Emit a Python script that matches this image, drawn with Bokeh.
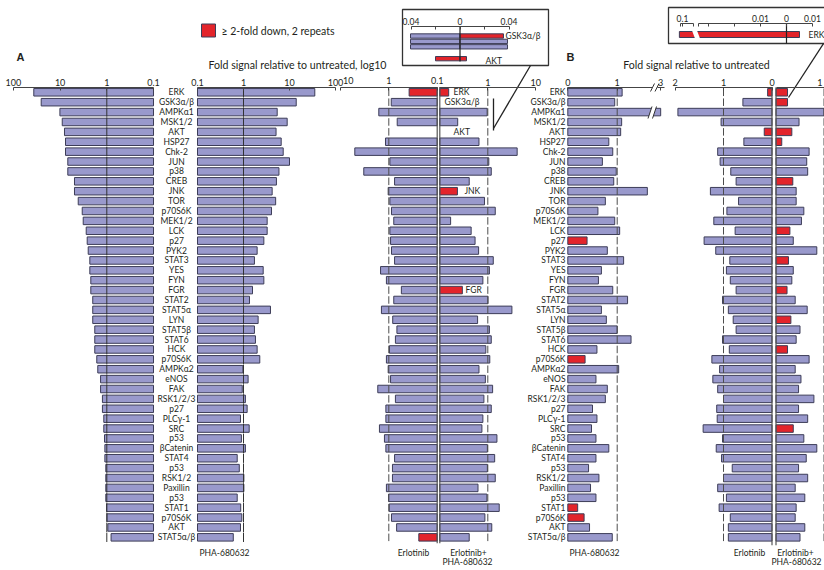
from bokeh.plotting import figure
from bokeh.models import Range1d, LogScale, LogAxis, LinearAxis, FixedTicker
from bokeh.core.properties import value
from bokeh.embed import file_html
from bokeh.resources import INLINE

# ---------------- data ----------------
proteins = ["ERK", "GSK3α/β", "AMPKα1", "MSK1/2", "AKT", "HSP27", "Chk-2", "JUN", "p38", "CREB",
            "JNK", "TOR", "p70S6K", "MEK1/2", "LCK", "p27", "PYK2", "STAT3", "YES", "FYN",
            "FGR", "STAT2", "STAT5α", "LYN", "STAT5β", "STAT6", "HCK", "p70S6K", "AMPKα2", "eNOS",
            "FAK", "RSK1/2/3", "p27", "PLCγ-1", "SRC", "p53", "βCatenin", "STAT4", "p53", "RSK1/2",
            "Paxillin", "p53", "STAT1", "p70S6K", "AKT", "STAT5α/β"]

# Panel A (log10 fold)
a_left_fold = [36.6, 25.4, 10.1, 9.0, 8.05, 7.66, 7.66, 6.84, 6.84, 4.92, 4.92, 4.09, 3.36, 3.2, 2.76, 2.63,
               2.5, 2.31, 2.31, 2.2, 2.2, 2.0, 2.0, 2.0, 1.81, 1.81, 1.81, 1.64, 1.56, 1.36, 1.36, 1.24,
               1.24, 1.16, 1.16, 1.12, 1.10, 1.10, 1.05, 1.05, 1.05, 1.05, 1.01, 0.99, 0.95, 0.81]
a_pha_fold = [35.5, 14.0, 5.4, 8.9, 5.1, 6.6, 7.3, 10.0, 5.9, 5.2, 4.2, 5.0, 4.06, 3.27, 3.27, 2.77,
              1.98, 1.73, 2.68, 2.77, 1.57, 1.35, 3.86, 2.08, 1.73, 1.82, 1.98, 2.26, 0.97, 1.26, 0.94,
              1.10, 1.20, 0.86, 1.33, 0.90, 1.10, 0.73, 0.81, 1.02, 1.02, 0.73, 0.87, 0.92, 0.86, 0.60]
mid_erl_fold = [0.38, 0.89, 1.61, 0.67, None, 1.17, 5.04, 0.95, 3.29, 0.76, 1.03, 0.95, 0.88, 0.79, 0.95,
                0.92, 0.88, 0.76, 1.48, 1.12, 0.55, 0.79, 1.42, 0.83, 0.68, 0.73, 0.97, 1.12, 1.03, 0.92,
                1.69, 0.73, 1.15, 1.15, 1.56, 1.23, 1.15, 0.76, 0.84, 0.84, 1.12, 1.01, 0.98, 0.88, 0.69, 0.24]
mid_comb_fold = [0.153, None, 0.97, 0.236, None, 0.655, 4.09, 1.05, 1.18, 0.41, 0.233, 0.853, 1.43, 0.168,
                 0.45, 0.543, 0.643, 1.3, 1.08, 0.79, 0.295, 1.01, 3.18, 0.613, 1.08, 1.18, 0.91, 1.1,
                 0.655, 0.89, 1.26, 0.83, 1.18, 0.79, 0.754, 1.55, 0.98, 1.39, 0.98, 1.43, 0.625, 0.957,
                 1.73, 0.87, 1.21, 0.41]
mid_erl_red = [0, 45]
mid_comb_red = [0, 10, 20]

# Panel B (linear fold)
b_pha_fold = [1.10, 0.95, 3.0, 1.09, 1.07, 0.83, 0.91, 0.70, 0.98, 0.93, 1.61, 0.76, 0.61, 0.95, 1.05, 0.39,
              0.80, 1.13, 0.68, 0.62, 0.91, 1.21, 0.68, 0.78, 1.0, 1.28, 0.59, 0.35, 1.03, 0.57, 0.80, 0.76,
              0.50, 0.59, 0.48, 0.57, 0.83, 0.57, 0.42, 0.63, 0.46, 0.57, 0.20, 0.33, 0.44, 0.90]
b_pha_red = [15, 27, 42, 43]
b_erl_fold = [0.09, 0.60, 1.94, 1.05, 0.16, 0.58, 1.12, 1.07, 0.85, 0.74, 1.27, 0.69, 0.93, 1.2, 0.76, 1.40,
              1.16, 0.87, 0.94, 0.86, 0.74, 1.02, 0.90, 0.80, 0.74, 1.02, 0.88, 1.24, 1.08, 1.22, 1.12, 1.0,
              1.14, 1.13, 1.42, 1.02, 1.15, 1.04, 0.82, 1.0, 1.12, 0.94, 1.09, 0.86, 0.90, 0.90]
b_erl_red = [0, 4]
b_comb_fold = [0.24, 0.24, 1.0, 0.48, 0.33, 0.12, 0.69, 0.64, 0.66, 0.35, 0.42, 0.42, 0.58, 0.53, 0.29, 0.36,
               0.85, 0.26, 0.36, 0.33, 0.23, 0.40, 0.65, 0.31, 0.50, 0.42, 0.24, 0.69, 0.40, 0.52, 0.47, 0.79,
               0.47, 0.66, 0.36, 0.58, 0.85, 0.63, 0.47, 0.66, 0.40, 0.60, 0.42, 0.40, 0.60, 0.50]
b_comb_red = [0, 1, 4, 5, 9, 14, 17, 20, 23, 26, 34]

# Inset of panel A (linear, near zero)
inset_a_rows = ["GSK3α/β", "AMPKα1", "MSK1/2", "AKT"]
inset_a_erl = [0.0404, 0.0404, 0.0404, 0.020]
inset_a_comb = [0.0355, 0.0388, 0.0388, 0.0053]
inset_a_erl_red = [3]
inset_a_comb_red = [0, 3]
# Inset of panel B (ERK)
inset_b_erl = [0.104]
inset_b_comb = [0.005]

# tick labels
log_ticks_a = [0.1, 1, 10, 100]
log_labels_a = ["0.1", "1", "10", "100"]
log_ticks_mid = [0.1, 1, 10]
log_labels_mid = ["0.1", "1", "\u2007\u2007\u200710"]
inset_a_ticks = [-0.04, 0, 0.04]
inset_a_labels = ["0.04", "0", "0.04"]

# ---------------- style / geometry ----------------
BLUE, RED, EDGE, INK, DASH = "#9999cc", "#e3242b", "#3d3d58", "#231f20", "#4d4d4d"
FONT = "Lato"
W, H = 824, 570
REF_W = 824.0
Y_TOP, Y_BOT = 0.0, 570.0
AX_Y = 87.0


def log_range(x0, v0, k, rev=False):
    s = -1.0 if rev else 1.0
    f = lambda x: v0 * 10 ** (s * (x - x0) / k)
    return Range1d(start=f(0.0), end=f(REF_W))


def lin_range(x0, v0, k, rev=False):
    s = -1.0 if rev else 1.0
    f = lambda x: v0 + s * (x - x0) / k
    return Range1d(start=f(0.0), end=f(REF_W))


def row_range(y0, k):
    return Range1d(start=(Y_BOT - y0) / k, end=(Y_TOP - y0) / k)


p = figure(width=W, height=H, output_backend="svg", toolbar_location=None,
           x_range=Range1d(0, REF_W), y_range=Range1d(Y_BOT, Y_TOP),
           x_axis_type=None, y_axis_type=None, min_border=0)
p.min_border_left = p.min_border_right = p.min_border_top = p.min_border_bottom = 0
p.outline_line_color = None
p.background_fill_color = "white"
p.border_fill_color = "white"

p.extra_x_ranges = {
    "aL": log_range(153.0, 0.1, 46.7, rev=True),
    "aR": log_range(197.0, 0.1, 46.0),
    "mL": log_range(436.7, 0.1, 48.4, rev=True),
    "mR": log_range(439.3, 0.1, 48.0),
    "bL": lin_range(567.3, 0.0, 49.4),
    "bE": lin_range(771.5, 0.0, 48.5, rev=True),
    "bP": lin_range(775.5, 0.0, 48.0),
    "in1": lin_range(459.5, 0.0, 1225.0),
    "in2": lin_range(786.0, 0.0, 2600.0),
}
p.extra_x_scales = {"aL": LogScale(), "aR": LogScale(), "mL": LogScale(), "mR": LogScale()}
p.extra_y_ranges = {
    "rows": row_range(91.8, 9.89),
    "in1y": row_range(35.5, 5.4),
    "in2y": row_range(34.0, 8.0),
}


def bars(vals, base, red_idx, xr, yr="rows", ys=None, height=0.76, transform=None):
    yy, rr, cc = [], [], []
    for i, v in enumerate(vals):
        if v is None:
            continue
        yy.append(ys[i] if ys is not None else i)
        rr.append(transform(v) if transform else v)
        cc.append(RED if i in red_idx else BLUE)
    p.hbar(y=yy, left=base, right=rr, height=height, fill_color=cc, line_color=EDGE,
           line_width=1, x_range_name=xr, y_range_name=yr)


def marks(xr, x, half, color, width=1.0):
    rows = list(range(len(proteins)))
    p.segment(x0=x, x1=x, y0=[r - half for r in rows], y1=[r + half for r in rows],
              line_color=color, line_width=width, x_range_name=xr, y_range_name="rows")


def top_axis(kind, xr, bounds, ticks, labels, minor=(), loc=AX_Y, size="9px"):
    ax = kind(x_range_name=xr, fixed_location=loc, bounds=bounds,
              ticker=FixedTicker(ticks=list(ticks), minor_ticks=list(minor)))
    ax.major_label_overrides = {t: l for t, l in zip(ticks, labels)}
    ax.axis_line_color = "#444444"
    ax.axis_line_width = 1
    ax.major_tick_in = 3
    ax.major_tick_out = 0
    ax.minor_tick_in = 3
    ax.minor_tick_out = 0
    ax.major_tick_line_color = "#444444"
    ax.minor_tick_line_color = "#444444"
    ax.major_label_standoff = 2
    ax.major_label_text_font = FONT
    ax.major_label_text_font_size = size
    ax.major_label_text_color = INK
    p.add_layout(ax, "above")
    return ax


def txt(x, y, s, size="9px", align="center", baseline="middle", font=FONT, bold=False, yr="default"):
    xs = x if isinstance(x, list) else [x]
    ys = y if isinstance(y, list) else [y]
    ss = s if isinstance(s, list) else [s]
    if len(xs) == 1 and len(ys) > 1:
        xs = xs * len(ys)
    p.text(x=xs, y=ys, text=ss, text_font=value(font), text_font_size=size, text_align=align,
           text_baseline=baseline, text_color=INK, text_font_style="bold" if bold else "normal",
           y_range_name=yr)


rows = list(range(len(proteins)))
LBL = "8.5px"

# ---------------- panel A ----------------
bars(a_left_fold, 0.1, [], "aL")
bars(a_pha_fold, 0.1, [], "aR")
marks("aL", 1, 0.47, "#333333")
marks("aR", 1, 0.47, "#333333")
top_axis(LogAxis, "aL", (0.1, 100), log_ticks_a, log_labels_a)
top_axis(LogAxis, "aR", (0.1, 100), log_ticks_a, log_labels_a)
txt([176.0], rows, proteins, size=LBL, yr="rows")

# ---------------- middle panel (Erlotinib / Erlotinib + PHA) ----------------
bars(mid_erl_fold, 0.1, mid_erl_red, "mL")
bars(mid_comb_fold, 0.1, mid_comb_red, "mR")
marks("mL", 1, 0.38, DASH)
marks("mR", 1, 0.38, DASH)
p.segment(x0=0.1, x1=0.1, y0=-0.5, y1=45.6, line_color="#555555", line_width=1.2,
          x_range_name="mL", y_range_name="rows")
p.segment(x0=0.1, x1=0.1, y0=-0.5, y1=45.6, line_color="#555555", line_width=1.2,
          x_range_name="mR", y_range_name="rows")
top_axis(LogAxis, "mL", (0.1, 10), log_ticks_mid, log_labels_mid)
top_axis(LogAxis, "mR", (0.1, 10), [1, 10], ["1", "10"])
mid_notes = ["ERK", "GSK3α/β", "AKT", "JNK", "FGR"]
mid_note_rows = [0, 1, 4, 10, 20]
txt([453.0, 444.0, 453.0, 464.0, 465.0], mid_note_rows, mid_notes, size=LBL, align="left", yr="rows")

# ---------------- panel B ----------------
b_break = lambda v: v if v < 2 else v - 1.12   # axis break between 1.75 and 2.9
bars(b_pha_fold, 0.0, b_pha_red, "bL", transform=b_break)
bars(b_erl_fold, 0.0, b_erl_red, "bE")
bars(b_comb_fold, 0.0, b_comb_red, "bP")
marks("bL", 1, 0.38, DASH)
marks("bE", 1, 0.38, DASH)
marks("bP", 1, 0.38, DASH)
p.segment(x0=0.0, x1=0.0, y0=-0.5, y1=45.8, line_color="#555555", line_width=1.2,
          x_range_name="bE", y_range_name="rows")
p.segment(x0=0.0, x1=0.0, y0=-0.5, y1=45.8, line_color="#555555", line_width=1.2,
          x_range_name="bP", y_range_name="rows")
top_axis(LinearAxis, "bL", (0, 1.72), [0, 1], ["0", "1"])
top_axis(LinearAxis, "bL", (1.82, 1.95), [1.88], ["3"])
top_axis(LinearAxis, "bE", (0, 2), [0, 1, 2], ["0", "1", "2"])
top_axis(LinearAxis, "bP", (0, 1), [1], ["1"])
txt([565.0], rows, proteins, size=LBL, align="right", yr="rows")
# axis-break marks (B left)
p.patch(x=[647.5, 651.5, 656.0, 652.0], y=[118, 106, 106, 118], fill_color="white", line_color=None)
p.segment(x0=[647.5, 652.0, 650.0, 654.5], y0=[118, 118, 91, 91],
          x1=[651.5, 656.0, 654.0, 658.5], y1=[106, 106, 83, 83], line_color="#333333", line_width=1)

# ---------------- header: titles, letters, legend ----------------
txt(16.0, 56.5, "A", size="11px", align="left", font="Liberation Sans", bold=True)
txt(566.0, 56.5, "B", size="11px", align="left", font="Liberation Sans", bold=True)
txt(297.0, 64.5, "Fold signal relative to untreated, log10", size="10.6px")
txt(696.0, 64.5, "Fold signal relative to untreated", size="10.6px")
p.quad(left=[201], right=[215], top=[23.5], bottom=[36.5], fill_color=RED, line_color=EDGE, line_width=1)
txt(221.0, 30.5, "≥ 2-fold down, 2 repeats", size="10.5px", align="left")

# bottom labels
txt(224.0, 552.0, "PHA-680632", size="8.5px")
txt(413.0, 552.0, "Erlotinib", size="8.5px")
txt(468.0, 552.0, "Erlotinib+", size="8.5px")
txt(467.0, 561.0, "PHA-680632", size="8.5px")
txt(594.0, 552.0, "PHA-680632", size="8.5px")
txt(749.0, 552.0, "Erlotinib", size="8.5px")
txt(795.0, 552.0, "Erlotinib+", size="8.5px")
txt(796.0, 561.5, "PHA-680632", size="8.5px")

# ---------------- inset of panel A ----------------
p.quad(left=[402], right=[548], top=[9], bottom=[65], fill_color="white", line_color="#333333", line_width=1.3)
inset_a_pos = [0, 1, 2, 4.2]
bars([-v for v in inset_a_erl], 0.0, inset_a_erl_red, "in1", yr="in1y", ys=inset_a_pos, height=0.8)
bars(inset_a_comb, 0.0, inset_a_comb_red, "in1", yr="in1y", ys=inset_a_pos, height=0.8)
p.segment(x0=[0.0], x1=[0.0], y0=[26], y1=[61], line_color="#222222", line_width=1.2, x_range_name="in1")
top_axis(LinearAxis, "in1", (-0.04, 0.04), inset_a_ticks, inset_a_labels, minor=[-0.02, 0.02], loc=26.0, size="8.5px")
txt(505.0, 35.5, inset_a_rows[0], size=LBL, align="left")
txt(485.0, 60.0, inset_a_rows[3], size=LBL, align="left")
p.line(x=[530, 493], y=[65, 128], line_color="#222222", line_width=1.3)
p.line(x=[493, 493], y=[98, 130], line_color="#222222", line_width=1.3)

# ---------------- inset of panel B ----------------
p.quad(left=[668], right=[830], top=[7], bottom=[43], fill_color="white", line_color="#333333", line_width=1.3)
in2_break = lambda v: v if v < 0.035 else 0.04 + (v - 0.1) * 0.3
bars([-in2_break(v) for v in inset_b_erl], 0.0, [0], "in2", yr="in2y", ys=[0], height=0.75)
bars(inset_b_comb, 0.0, [0], "in2", yr="in2y", ys=[0], height=0.75)
p.patch(x=[691.5, 696.5, 699.5, 694.5], y=[30, 30, 38, 38], fill_color="white", line_color=None)
p.segment(x0=[0.0], x1=[0.0], y0=[23], y1=[43], line_color="#222222", line_width=1.2, x_range_name="in2")
top_axis(LinearAxis, "in2", (-0.0408, -0.0358), [-0.04], ["0.1"], minor=[-0.0408, -0.0358], loc=23.0, size="8.5px")
top_axis(LinearAxis, "in2", (-0.0338, 0.01), [-0.01, 0.0, 0.01], ["0.01", "0", "0.01"],
         minor=[-0.0338, -0.03, -0.02], loc=23.0, size="8.5px")
txt(808.0, 34.5, "ERK", size=LBL, align="left")
p.line(x=[823, 788], y=[43, 97], line_color="#222222", line_width=1.3)

open("out.html", "w").write(file_html(p, INLINE))
